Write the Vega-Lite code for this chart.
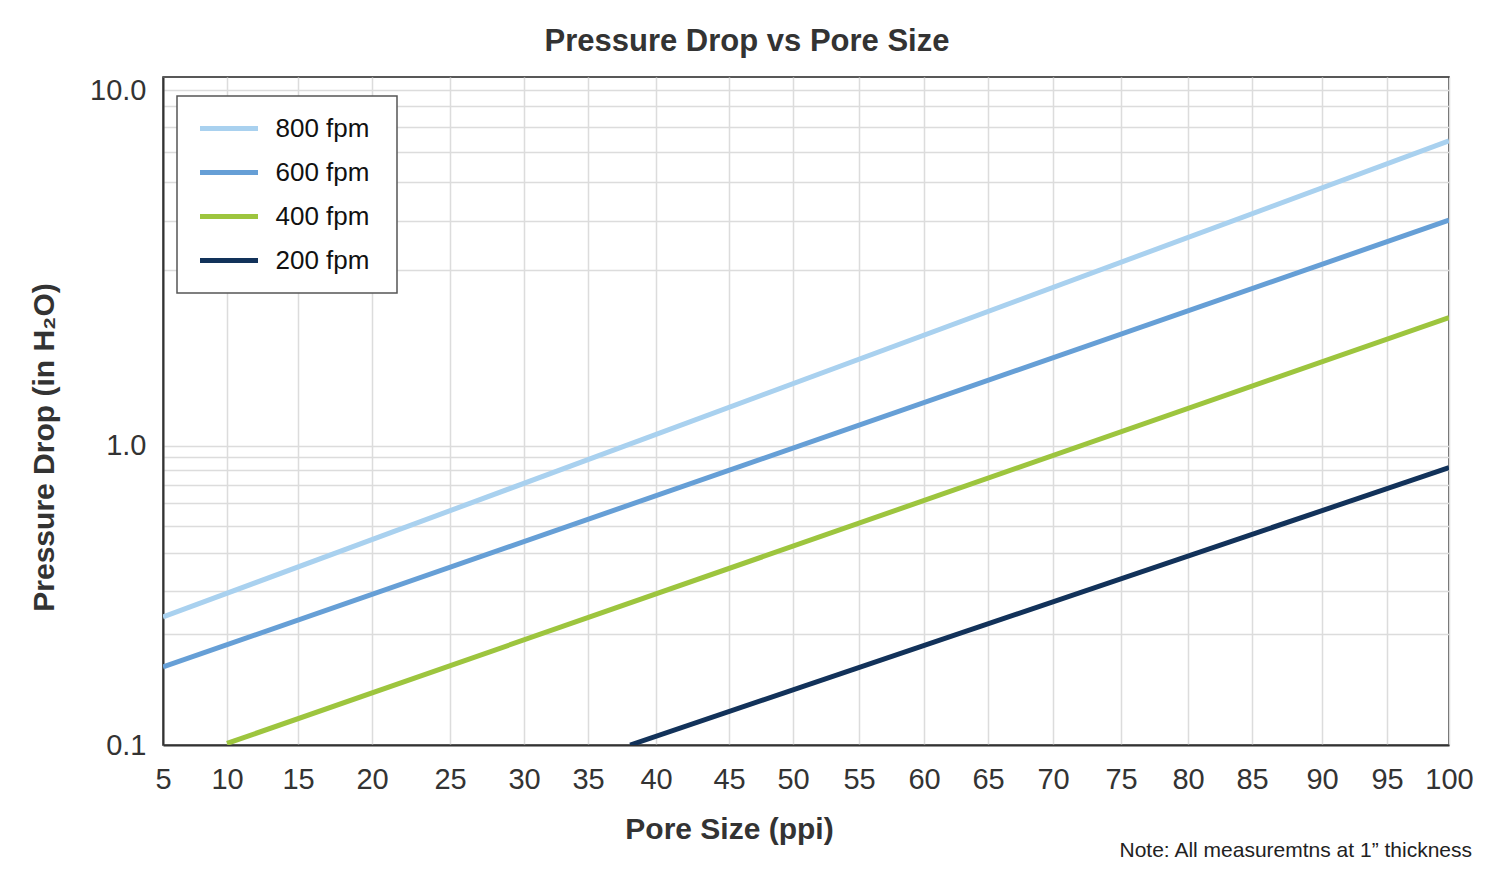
{
  "$schema": "https://vega.github.io/schema/vega-lite/v6.json",
  "autosize": {"type": "none"},
  "width": 1286,
  "height": 668,
  "padding": {"left": 163, "top": 77, "right": 48, "bottom": 126},
  "background": "white",
  "title": {
    "text": "Pressure Drop vs Pore Size",
    "anchor": "middle",
    "frame": "group",
    "dx": -59,
    "offset": -6,
    "baseline": "alphabetic",
    "fontSize": 31,
    "font": "Liberation Sans",
    "fontWeight": "bold",
    "color": "#333333"
  },
  "config": {
    "font": "Liberation Sans",
    "view": {"stroke": "#222222", "strokeWidth": 1.5}
  },
  "layer": [
    {
      "data": {
        "values": [
          {"pore_size": 5, "pressure_drop": 0.235, "velocity": "800 fpm"},
          {"pore_size": 100, "pressure_drop": 7.42, "velocity": "800 fpm"},
          {"pore_size": 5, "pressure_drop": 0.163, "velocity": "600 fpm"},
          {"pore_size": 100, "pressure_drop": 5.02, "velocity": "600 fpm"},
          {"pore_size": 10, "pressure_drop": 0.101, "velocity": "400 fpm"},
          {"pore_size": 100, "pressure_drop": 2.75, "velocity": "400 fpm"},
          {"pore_size": 38.1, "pressure_drop": 0.1, "velocity": "200 fpm"},
          {"pore_size": 100, "pressure_drop": 0.817, "velocity": "200 fpm"}
        ]
      },
      "mark": {"type": "line", "strokeWidth": 5, "clip": true},
      "encoding": {
        "x": {
          "field": "pore_size",
          "type": "quantitative",
          "scale": {
            "domain": [5, 10, 15, 20, 25, 30, 35, 40, 45, 50, 55, 60, 65, 70, 75, 80, 85, 90, 95, 100],
            "range": [0, 64, 135, 209, 287, 361, 425, 493, 566, 630, 696, 761, 825, 890, 958, 1025, 1089, 1159, 1224, 1286],
            "nice": false,
            "zero": false
          },
          "axis": {
            "values": [5, 10, 15, 20, 25, 30, 35, 40, 45, 50, 55, 60, 65, 70, 75, 80, 85, 90, 95, 100],
            "format": "d",
            "grid": true,
            "gridColor": "#dcdcdc",
            "gridWidth": 1.5,
            "ticks": false,
            "labelFlush": false,
            "labelOverlap": false,
            "labelFontSize": 29,
            "labelColor": "#333333",
            "labelPadding": 20,
            "domainColor": "#333333",
            "domainWidth": 2,
            "title": "Pore Size (ppi)",
            "titleFontSize": 30,
            "titleFontWeight": "bold",
            "titleColor": "#333333",
            "titleX": 566,
            "titleY": 93,
            "titleAlign": "center",
            "titleBaseline": "alphabetic"
          }
        },
        "y": {
          "field": "pressure_drop",
          "type": "quantitative",
          "scale": {
            "type": "log",
            "domain": [0.1, 0.2, 0.3, 0.4, 0.5, 0.6, 0.7, 0.8, 0.9, 1, 4, 5, 6, 7, 8, 9, 10, 10.9],
            "range": [668, 557.3, 513.7, 476.3, 448.7, 425.7, 408, 393, 379.7, 368.7, 193, 144, 105.3, 74.7, 49.7, 29, 13, 0],
            "nice": false
          },
          "axis": {
            "values": [0.1, 0.2, 0.3, 0.4, 0.5, 0.6, 0.7, 0.8, 0.9, 1, 4, 5, 6, 7, 8, 9, 10],
            "labelExpr": "datum.value === 0.1 || datum.value === 1 || datum.value === 10 ? format(datum.value, '.1f') : ''",
            "grid": true,
            "gridColor": "#dcdcdc",
            "gridWidth": 1.5,
            "ticks": false,
            "labelFlush": false,
            "labelOverlap": false,
            "labelFontSize": 29,
            "labelColor": "#333333",
            "labelPadding": 17,
            "domainColor": "#333333",
            "domainWidth": 2,
            "title": "Pressure Drop (in H₂O)",
            "titleFontSize": 30,
            "titleFontWeight": "bold",
            "titleColor": "#333333",
            "titleX": -110,
            "titleY": 370,
            "titleAlign": "center",
            "titleBaseline": "alphabetic"
          }
        },
        "color": {
          "field": "velocity",
          "type": "nominal",
          "scale": {
            "domain": ["800 fpm", "600 fpm", "400 fpm", "200 fpm"],
            "range": ["#a9d1ef", "#669fd6", "#9dc53e", "#12325a"]
          },
          "legend": {
            "orient": "none",
            "legendX": 14,
            "legendY": 19,
            "title": "\u00a0",
            "titleOrient": "right",
            "titleAngle": 0,
            "titleFontSize": 26,
            "titlePadding": 17,
            "symbolType": "stroke",
            "symbolSize": 3364,
            "symbolStrokeWidth": 5,
            "symbolOffset": 10,
            "labelOffset": 15,
            "labelFontSize": 26,
            "labelColor": "#111111",
            "padding": 10.5,
            "clipHeight": 44,
            "rowPadding": 0,
            "fillColor": "white",
            "strokeColor": "#555555",
            "encode": {"legend": {"update": {"strokeWidth": {"value": 1.5}}}}
          }
        }
      }
    },
    {
      "data": {"values": [{"note": "Note: All measuremtns at 1” thickness"}]},
      "mark": {
        "type": "text",
        "align": "right",
        "baseline": "alphabetic",
        "dx": 23,
        "dy": 112,
        "fontSize": 21,
        "color": "#222222"
      },
      "encoding": {
        "x": {"datum": 100},
        "y": {"datum": 0.1},
        "text": {"field": "note", "type": "nominal"}
      }
    }
  ]
}
